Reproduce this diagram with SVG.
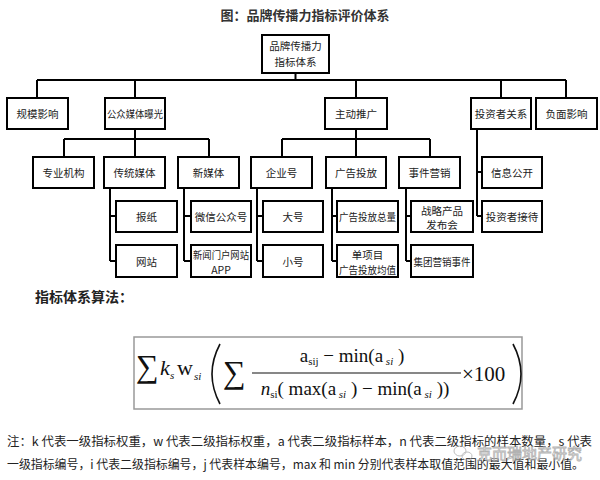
<svg xmlns="http://www.w3.org/2000/svg" width="600" height="480" viewBox="0 0 600 480">
<style>
.box{fill:#fff;stroke:#000;stroke-width:2}
.t{font-family:"Noto Sans CJK SC","Noto Sans",sans-serif;font-size:10.5px;fill:#222;text-anchor:middle;dominant-baseline:central}
.ln{stroke:#000;stroke-width:2;fill:none}
.m{font-family:"Liberation Serif","Times New Roman",serif;fill:#111}
.note{font-family:"Noto Sans CJK SC","Noto Sans",sans-serif;font-size:12px;fill:#222}
</style>
<rect width="600" height="480" fill="#fff"/>
<text x="305" y="20" font-family="'Noto Sans CJK SC',sans-serif" font-size="13" font-weight="bold" fill="#333" text-anchor="middle">图：品牌传播力指标评价体系</text>

<g id="connectors" class="ln">
<path d="M295.5 73V80M37 80H566M37 80V98M135 80V98M356 80V98M501 80V98M566 80V98"/>
<path d="M135 129V139M64 139H209M64 139V157M135 139V157M209 139V157"/>
<path d="M356 129V139M282 139H430M282 139V157M356 139V157M430 139V157"/>
<path d="M477 129V216M477 172H482M477 216H482"/>
<path d="M110 188V261M110 216H116M110 261H116"/>
<path d="M184 188V261M184 216H191M184 261H191"/>
<path d="M257 188V261M257 216H263M257 261H263"/>
<path d="M332 188V261M332 216H337M332 261H337"/>
<path d="M406 188V261M406 216H411M406 261H411"/>
</g>

<g id="root"><rect class="box" x="262" y="35" width="67" height="38"/><text class="t" x="295.5" y="45">品牌传播力</text><text class="t" x="295.5" y="61">指标体系</text></g>
<g id="n_guimo"><rect class="box" x="7" y="98" width="61" height="31"/><text class="t" x="37.5" y="113.5">规模影响</text></g>
<g id="n_gongzhong"><rect class="box" x="105" y="98" width="60" height="31"/><text class="t" x="135" y="113.5" textLength="56" lengthAdjust="spacingAndGlyphs">公众媒体曝光</text></g>
<g id="n_zhudong"><rect class="box" x="325" y="98" width="62" height="31"/><text class="t" x="356" y="113.5">主动推广</text></g>
<g id="n_touzizhe"><rect class="box" x="471" y="98" width="60" height="31"/><text class="t" x="501" y="113.5">投资者关系</text></g>
<g id="n_fumian"><rect class="box" x="536" y="98" width="61" height="31"/><text class="t" x="566.5" y="113.5">负面影响</text></g>

<g id="n_zhuanye"><rect class="box" x="33" y="157" width="61" height="31"/><text class="t" x="63.5" y="172.5">专业机构</text></g>
<g id="n_chuantong"><rect class="box" x="104" y="157" width="61" height="31"/><text class="t" x="134.5" y="172.5">传统媒体</text></g>
<g id="n_xinmeiti"><rect class="box" x="178" y="157" width="61" height="31"/><text class="t" x="208.5" y="172.5">新媒体</text></g>
<g id="n_qiye"><rect class="box" x="251" y="157" width="61" height="31"/><text class="t" x="281.5" y="172.5">企业号</text></g>
<g id="n_guanggao"><rect class="box" x="326" y="157" width="60" height="31"/><text class="t" x="356" y="172.5">广告投放</text></g>
<g id="n_shijian"><rect class="box" x="399" y="157" width="61" height="31"/><text class="t" x="429.5" y="172.5">事件营销</text></g>
<g id="n_xinxi"><rect class="box" x="482" y="157" width="60" height="31"/><text class="t" x="512" y="172.5">信息公开</text></g>
<g id="n_jiedai"><rect class="box" x="482" y="201" width="60" height="31"/><text class="t" x="512" y="216.5">投资者接待</text></g>

<g id="n_baozhi"><rect class="box" x="116" y="201" width="61" height="31"/><text class="t" x="146.5" y="216.5">报纸</text></g>
<g id="n_wangzhan"><rect class="box" x="116" y="245" width="61" height="32"/><text class="t" x="146.5" y="261">网站</text></g>
<g id="n_weixin"><rect class="box" x="191" y="201" width="60" height="31"/><text class="t" x="221" y="216.5">微信公众号</text></g>
<g id="n_menhu"><rect class="box" x="191" y="245" width="60" height="32"/><text class="t" x="221" y="254" textLength="56" lengthAdjust="spacingAndGlyphs">新闻门户网站</text><text class="t" x="221" y="269">APP</text></g>
<g id="n_dahao"><rect class="box" x="263" y="201" width="60" height="31"/><text class="t" x="293" y="216.5">大号</text></g>
<g id="n_xiaohao"><rect class="box" x="263" y="245" width="60" height="32"/><text class="t" x="293" y="261">小号</text></g>
<g id="n_zongliang"><rect class="box" x="337" y="201" width="61" height="31"/><text class="t" x="367.5" y="216.5" textLength="57" lengthAdjust="spacingAndGlyphs">广告投放总量</text></g>
<g id="n_junzhi"><rect class="box" x="337" y="245" width="61" height="32"/><text class="t" x="367.5" y="254">单项目</text><text class="t" x="367.5" y="269" textLength="57" lengthAdjust="spacingAndGlyphs">广告投放均值</text></g>
<g id="n_fabu"><rect class="box" x="411" y="201" width="62" height="31"/><text class="t" x="442" y="210">战略产品</text><text class="t" x="442" y="224">发布会</text></g>
<g id="n_jituan"><rect class="box" x="411" y="245" width="62" height="32"/><text class="t" x="442" y="261" textLength="57" lengthAdjust="spacingAndGlyphs">集团营销事件</text></g>

<text x="35" y="302" font-family="'Noto Sans CJK SC',sans-serif" font-size="14" font-weight="bold" fill="#222">指标体系算法：</text>

<g id="formula">
<rect x="134" y="337" width="388" height="72" fill="none" stroke="#999" stroke-width="1.5"/>
<text class="m" x="136" y="377" font-size="32">∑</text>
<text class="m" x="160" y="375" font-size="22" font-style="italic">k</text>
<text class="m" x="170" y="379" font-size="11" font-style="italic">s</text>
<text class="m" x="177" y="375" font-size="22">w</text>
<text class="m" x="194" y="380" font-size="11" font-style="italic">si</text>
<path d="M220 344Q204 374 220 404" fill="none" stroke="#111" stroke-width="1.6"/>
<path d="M513 344Q529 374 513 404" fill="none" stroke="#111" stroke-width="1.6"/>
<text class="m" x="223" y="383" font-size="32">∑</text>
<text class="m" x="352" y="362" font-size="19" text-anchor="middle">a<tspan font-size="11" dy="3">sij</tspan><tspan dy="-3"> − min(a</tspan><tspan font-size="11" font-style="italic" dy="3"> si</tspan><tspan dy="-3"> )</tspan></text>
<line x1="252" y1="373" x2="461" y2="373" stroke="#111" stroke-width="1.2"/>
<text class="m" x="355" y="395" font-size="19" text-anchor="middle"><tspan font-style="italic">n</tspan><tspan font-size="11" dy="3">si</tspan><tspan dy="-3">( max(a</tspan><tspan font-size="11" font-style="italic" dy="3"> si</tspan><tspan dy="-3"> ) − min(a</tspan><tspan font-size="11" font-style="italic" dy="3"> si</tspan><tspan dy="-3"> ))</tspan></text>
<text class="m" x="462" y="381" font-size="21">×100</text>
</g>

<text class="note" x="7" y="446" textLength="585" lengthAdjust="spacingAndGlyphs">注：k 代表一级指标权重，w 代表二级指标权重，a 代表二级指标样本，n 代表二级指标的样本数量，s 代表</text>
<text class="note" x="7" y="469" textLength="577" lengthAdjust="spacingAndGlyphs">一级指标编号，i 代表二级指标编号，j 代表样本编号，max 和 min 分别代表样本取值范围的最大值和最小值。</text>

<g id="watermark" opacity="0.75">
<ellipse cx="460" cy="451" rx="6" ry="5" fill="none" stroke="#aaa" stroke-width="1"/>
<ellipse cx="467" cy="456" rx="5" ry="4" fill="none" stroke="#aaa" stroke-width="1"/>
<text x="477" y="459" font-family="'Noto Sans CJK SC',sans-serif" font-size="15" fill="#fff" stroke="#999" stroke-width="0.8">克而瑞地产研究</text>
</g>
</svg>
